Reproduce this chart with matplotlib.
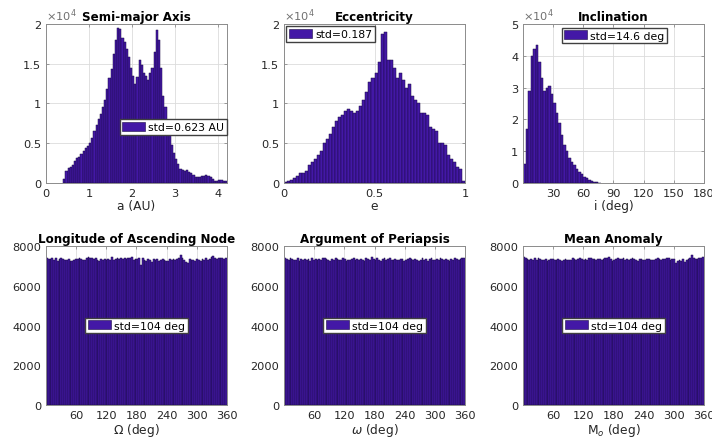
import numpy as np
import matplotlib.pyplot as plt
from matplotlib.patches import Patch
from matplotlib.ticker import FuncFormatter

# semi-major axis, counts in units of 1e4, bins of 0.05 AU from 0.4 AU
a_start = 0.4
a_width = 0.05
a_counts = [0.05, 0.15, 0.19, 0.20, 0.23, 0.27, 0.32, 0.33, 0.36, 0.40,
            0.44, 0.47, 0.50, 0.56, 0.65, 0.73, 0.80, 0.87, 0.95, 1.05,
            1.18, 1.32, 1.43, 1.62, 1.80, 1.95, 1.94, 1.83, 1.78, 1.68,
            1.58, 1.45, 1.35, 1.25, 1.33, 1.55, 1.48, 1.38, 1.35, 1.30,
            1.38, 1.45, 1.65, 1.92, 1.80, 1.45, 1.10, 0.95, 0.78, 0.60,
            0.48, 0.38, 0.30, 0.24, 0.18, 0.16, 0.15, 0.16, 0.14, 0.12,
            0.10, 0.08, 0.08, 0.07, 0.09, 0.09, 0.10, 0.09, 0.07, 0.05,
            0.03, 0.03, 0.04, 0.04, 0.03, 0.03]

# eccentricity, 60 bins on [0, 1], units of 1e4
e_counts = [0.01, 0.02, 0.04, 0.06, 0.09, 0.12, 0.12, 0.15, 0.22, 0.26,
            0.30, 0.35, 0.40, 0.50, 0.55, 0.62, 0.70, 0.78, 0.83, 0.86,
            0.90, 0.93, 0.90, 0.88, 0.91, 0.97, 1.05, 1.15, 1.27, 1.32,
            1.38, 1.52, 1.88, 1.90, 1.55, 1.55, 1.45, 1.32, 1.38, 1.30,
            1.20, 1.25, 1.10, 1.05, 1.00, 0.88, 0.88, 0.85, 0.70, 0.68,
            0.65, 0.50, 0.50, 0.48, 0.35, 0.30, 0.26, 0.20, 0.17, 0.02]

# inclination, bins of 2.5 deg from 0, units of 1e4
i_width = 2.5
i_counts = [0.6, 1.7, 2.9, 4.0, 4.2, 4.35, 3.8, 3.3, 2.9, 3.0,
            3.05, 2.8, 2.5, 2.2, 1.9, 1.5, 1.2, 1.0, 0.8, 0.65,
            0.55, 0.45, 0.35, 0.27, 0.2, 0.15, 0.1, 0.06, 0.04, 0.02,
            0.01]

# angles, 100 bins on [0, 360] deg, raw counts
node_counts = [7420, 7350, 7330, 7380, 7300, 7400, 7260, 7360, 7390, 7350,
               7300, 7280, 7350, 7240, 7260, 7300, 7370, 7330, 7400, 7350,
               7290, 7310, 7380, 7470, 7420, 7390, 7350, 7420, 7300, 7260,
               7330, 7290, 7350, 7300, 7370, 7320, 7440, 7300, 7360, 7400,
               7350, 7420, 7330, 7390, 7340, 7400, 7380, 7440, 7300, 7350,
               7330, 7400, 7060, 7380, 7300, 7270, 7350, 7320, 7200, 7330,
               7310, 7360, 7240, 7290, 7330, 7300, 7230, 7250, 7350, 7300,
               7350, 7280, 7330, 7400, 7560, 7380, 7300, 7200, 7160, 7330,
               7280, 7300, 7250, 7330, 7280, 7260, 7340, 7320, 7380, 7300,
               7350, 7430, 7480, 7400, 7360, 7420, 7380, 7400, 7370, 7410]
peri_counts = [7380, 7330, 7300, 7420, 7350, 7280, 7320, 7380, 7250, 7330,
               7300, 7360, 7290, 7340, 7270, 7400, 7300, 7330, 7280, 7350,
               7310, 7380, 7420, 7330, 7290, 7250, 7350, 7300, 7380, 7360,
               7290, 7320, 7400, 7330, 7260, 7310, 7280, 7350, 7400, 7300,
               7330, 7290, 7360, 7320, 7270, 7380, 7350, 7300, 7450, 7340,
               7300, 7380, 7320, 7260, 7350, 7410, 7300, 7330, 7380, 7290,
               7320, 7350, 7280, 7300, 7370, 7330, 7260, 7310, 7350, 7400,
               7330, 7290, 7360, 7310, 7250, 7320, 7380, 7300, 7340, 7270,
               7330, 7390, 7310, 7280, 7350, 7300, 7420, 7330, 7290, 7350,
               7300, 7270, 7360, 7320, 7380, 7330, 7290, 7350, 7400, 7380]
mean_counts = [7450, 7400, 7330, 7300, 7350, 7310, 7380, 7290, 7420, 7350,
               7300, 7280, 7330, 7270, 7300, 7330, 7360, 7300, 7280, 7340,
               7300, 7260, 7310, 7350, 7300, 7280, 7320, 7390, 7330, 7300,
               7360, 7410, 7330, 7300, 7350, 7320, 7380, 7400, 7340, 7370,
               7300, 7330, 7360, 7310, 7350, 7420, 7380, 7460, 7350, 7230,
               7300, 7330, 7380, 7360, 7340, 7400, 7320, 7350, 7300, 7360,
               7380, 7330, 7300, 7250, 7330, 7370, 7300, 7290, 7330, 7360,
               7300, 7280, 7310, 7350, 7390, 7330, 7300, 7360, 7330, 7380,
               7420, 7300, 7330, 7360, 7140, 7250, 7300, 7260, 7330, 7220,
               7300, 7360, 7420, 7550, 7380, 7340, 7370, 7400, 7380, 7430]

face = '#4318a6'
edge = '#1a0a45'
txt = '#262626'

fig = plt.figure(figsize=(7.12, 4.39), dpi=100)
lefts = [0.0646, 0.399, 0.7346]
w, h = 0.254, 0.362
bottoms = [0.581, 0.075]
axs = [[fig.add_axes([l, b, w, h]) for l in lefts] for b in bottoms]


def style(ax):
    ax.grid(True, color='#dcdcdc', linewidth=0.6)
    ax.set_axisbelow(True)
    for s in ax.spines.values():
        s.set_color('#8c8c8c')
        s.set_linewidth(0.7)
    ax.tick_params(direction='in', length=2.5, width=0.6, colors='#8c8c8c',
                   labelcolor=txt, labelsize=8.2, top=True, right=True)
    ax.yaxis.set_major_formatter(FuncFormatter(lambda v, p: '%g' % v))
    ax.xaxis.set_major_formatter(FuncFormatter(lambda v, p: '%g' % v))


def hist(ax, edges, counts):
    ax.bar(edges[:-1], counts, width=np.diff(edges), align='edge',
           color=face, edgecolor=edge, linewidth=0.35)


def leg(ax, label, **kw):
    ax.legend([Patch(facecolor=face, edgecolor=edge, linewidth=0.4)], [label],
              fancybox=False, framealpha=1, edgecolor='#404040', fontsize=7.8,
              handlelength=2.1, handleheight=0.9, handletextpad=0.3,
              borderpad=0.25, borderaxespad=0.2, **kw)


def expo(ax):
    ax.text(0.0, 1.005, r'$\times10^4$', transform=ax.transAxes, ha='left',
            va='bottom', fontsize=8.2, color='#707070')


def labels(ax, xl, title):
    ax.set_xlabel(xl, fontsize=8.8, color=txt, labelpad=1)
    ax.set_title(title, fontsize=8.6, fontweight='bold', pad=3)


# semi-major axis
ax = axs[0][0]
style(ax)
edges = a_start + a_width * np.arange(len(a_counts) + 1)
hist(ax, edges, a_counts)
ax.set_xlim(0, 4.2)
ax.set_ylim(0, 2)
ax.set_xticks([0, 1, 2, 3, 4])
ax.set_yticks([0, 0.5, 1, 1.5, 2])
labels(ax, 'a (AU)', 'Semi-major Axis')
expo(ax)
leg(ax, 'std=0.623 AU', loc='center', bbox_to_anchor=(0.705, 0.352))

# eccentricity
ax = axs[0][1]
style(ax)
hist(ax, np.linspace(0, 1, len(e_counts) + 1), e_counts)
ax.set_xlim(0, 1)
ax.set_ylim(0, 2)
ax.set_xticks([0, 0.5, 1])
ax.set_yticks([0, 0.5, 1, 1.5, 2])
labels(ax, 'e', 'Eccentricity')
expo(ax)
leg(ax, 'std=0.187', loc='upper left')

# inclination
ax = axs[0][2]
style(ax)
hist(ax, i_width * np.arange(len(i_counts) + 1), i_counts)
ax.set_xlim(0, 180)
ax.set_ylim(0, 5)
ax.set_xticks([30, 60, 90, 120, 150, 180])
ax.set_yticks([0, 1, 2, 3, 4, 5])
labels(ax, 'i (deg)', 'Inclination')
expo(ax)
leg(ax, 'std=14.6 deg', loc='upper center', bbox_to_anchor=(0.505, 0.99))

# angles
angle_sets = [(node_counts, 'Longitude of Ascending Node', r'$\Omega$ (deg)'),
              (peri_counts, 'Argument of Periapsis', r'$\omega$ (deg)'),
              (mean_counts, 'Mean Anomaly', r'M$_o$ (deg)')]
for ax, (counts, title, xl) in zip(axs[1], angle_sets):
    style(ax)
    hist(ax, np.linspace(0, 360, len(counts) + 1), counts)
    ax.set_xlim(0, 360)
    ax.set_ylim(0, 8000)
    ax.set_xticks([60, 120, 180, 240, 300, 360])
    ax.set_yticks([0, 2000, 4000, 6000, 8000])
    labels(ax, xl, title)
    leg(ax, 'std=104 deg', loc='center')

fig.savefig('out.png', dpi=100)
